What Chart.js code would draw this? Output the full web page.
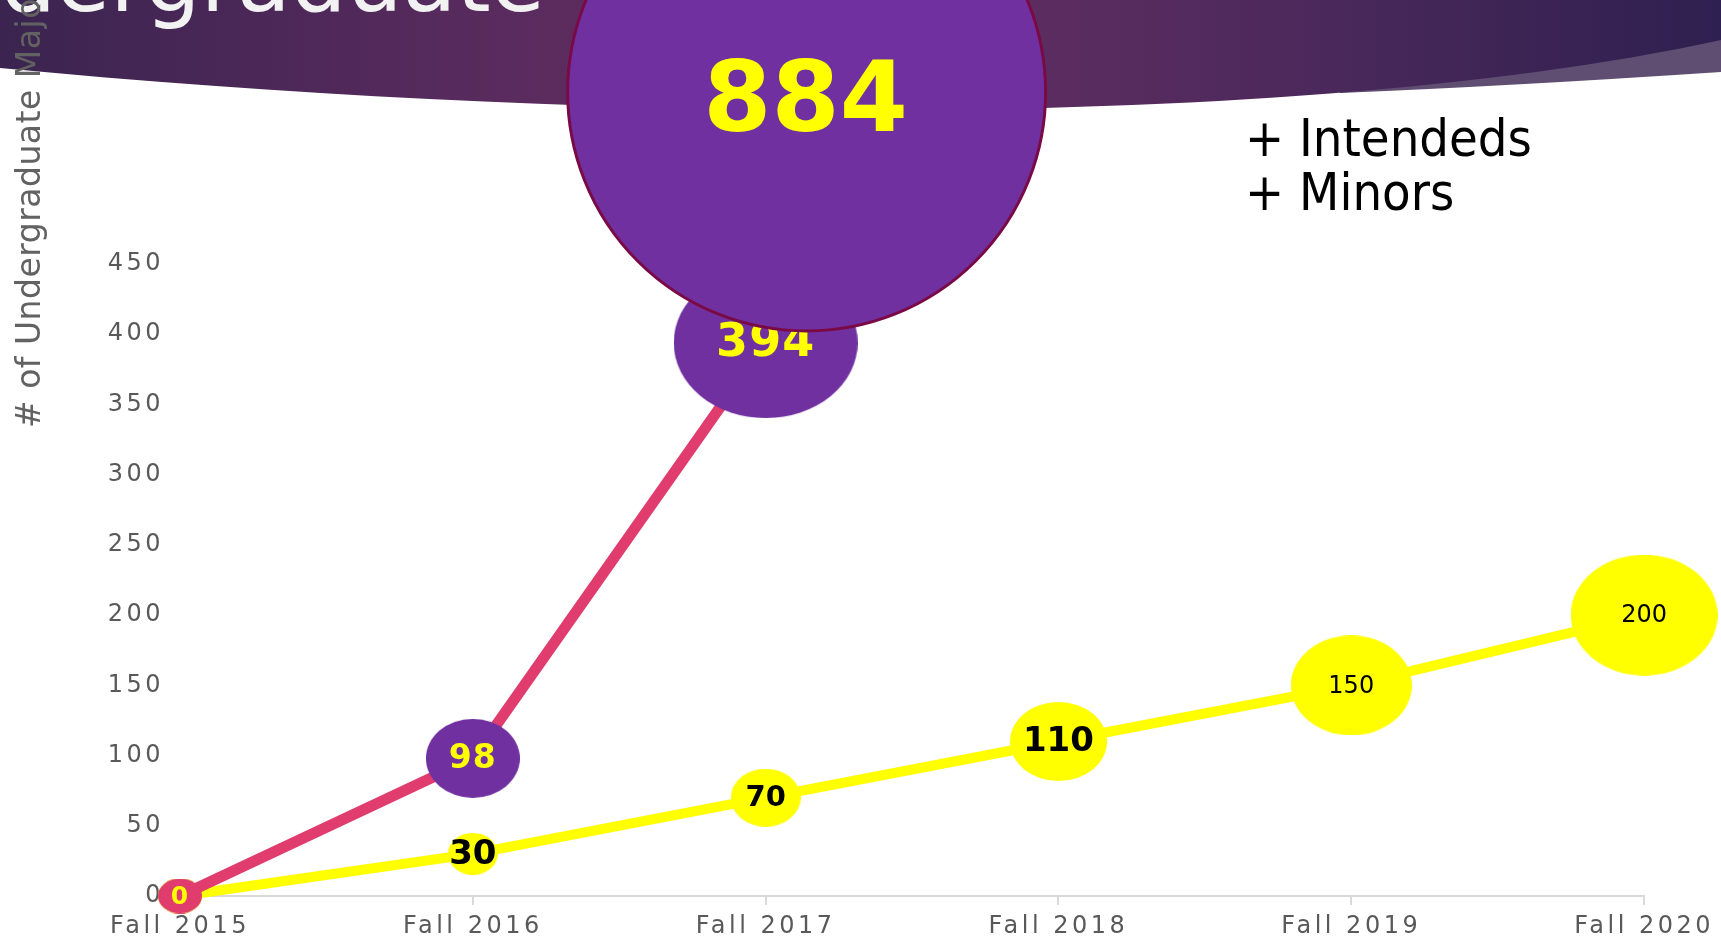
<!DOCTYPE html>
<html>
<head>
<meta charset="utf-8">
<script src="https://cdn.jsdelivr.net/npm/chart.js@4.4.1/dist/chart.umd.min.js"></script>
<style>
  html, body { margin: 0; padding: 0; background: #fff; }
  #myChart { display: block; }
</style>
</head>
<body>
<canvas id="myChart" width="1721" height="940"></canvas>
<script>
// data
const categories = ['Fall 2015', 'Fall 2016', 'Fall 2017', 'Fall 2018', 'Fall 2019', 'Fall 2020'];
const majorsValues = [0, 98, 394, null, null, null];
const otherValues = [0, 30, 70, 110, 150, 200];
const yTicks = [0, 50, 100, 150, 200, 250, 300, 350, 400, 450];
const totalValue = 884;
const noteLines = ['+ Intendeds', '+ Minors'];
const yTitle = '# of Undergraduate Majors';
const slideTitle = 'Undergraduate';

// styles
const PINK = '#e03c6e';
const PURPLE = '#7030a0';
const YELLOW = '#ffff00';
const FONT = '"DejaVu Sans", Verdana, sans-serif';
const TICK_SPACING = '3.5px';

// bubble sizes [w, h, fill]
const majorsBubbles = [[44, 35, PINK], [94, 79, PURPLE], [184, 151, PURPLE]];
const otherBubbles = [[44, 35, YELLOW], [50, 42, YELLOW], [70, 58, YELLOW], [97, 79, YELLOW], [121, 100, YELLOW], [147, 121, YELLOW]];
const majorsLabelFonts = ['bold 25px', 'bold 33px', 'bold 46px'];
const otherLabelFonts = [null, 'bold 34px', 'bold 29px', 'bold 34px', '24px', '24px'];

function ellipse(w, h, fill) {
  const c = document.createElement('canvas');
  c.width = w;
  c.height = h;
  const g = c.getContext('2d');
  g.fillStyle = fill;
  g.beginPath();
  g.ellipse(w / 2, h / 2, w / 2, h / 2, 0, 0, Math.PI * 2);
  g.fill();
  return c;
}

const majorsStyles = majorsBubbles.map(b => ellipse(b[0], b[1], b[2]));
const otherStyles = otherBubbles.map(b => ellipse(b[0], b[1], b[2]));

const slidePlugin = {
  id: 'slide',
  beforeUpdate(chart) {
    chart.ctx.letterSpacing = TICK_SPACING;
  },
  beforeDraw(chart) {
    const ctx = chart.ctx;
    const W = chart.width;
    ctx.save();
    ctx.letterSpacing = '0px';

    // lighter band on the right
    ctx.fillStyle = '#5f4d72';
    ctx.beginPath();
    ctx.moveTo(1340, 0);
    ctx.lineTo(1340, 93);
    ctx.quadraticCurveTo(1510, 86, W, 72);
    ctx.lineTo(W, 0);
    ctx.closePath();
    ctx.fill();

    // header band
    const grad = ctx.createLinearGradient(0, 0, W, 0);
    grad.addColorStop(0, '#3b2450');
    grad.addColorStop(0.3, '#5a2b5e');
    grad.addColorStop(0.5, '#662f62');
    grad.addColorStop(0.75, '#4d295c');
    grad.addColorStop(1, '#2e2050');
    ctx.fillStyle = grad;
    ctx.beginPath();
    ctx.moveTo(0, 0);
    ctx.lineTo(0, 68);
    ctx.bezierCurveTo(600, 125, 1300, 132, W, 40);
    ctx.lineTo(W, 0);
    ctx.closePath();
    ctx.fill();

    // slide title (cut off at the top)
    ctx.fillStyle = '#f2f2f2';
    ctx.font = '88px ' + FONT;
    ctx.textAlign = 'right';
    ctx.textBaseline = 'alphabetic';
    ctx.fillText(slideTitle, 545, 11);

    // y axis title
    ctx.translate(40, 428);
    ctx.rotate(-Math.PI / 2);
    ctx.fillStyle = '#626262';
    ctx.font = '33px ' + FONT;
    ctx.letterSpacing = '0.5px';
    ctx.textAlign = 'left';
    ctx.fillText(yTitle, 0, 0);
    ctx.restore();

    ctx.letterSpacing = TICK_SPACING;
  },
  afterDatasetsDraw(chart) {
    const ctx = chart.ctx;
    ctx.save();
    ctx.textAlign = 'center';
    ctx.textBaseline = 'middle';

    const drawLabels = (idx, values, fonts, color, spacing) => {
      const meta = chart.getDatasetMeta(idx);
      meta.data.forEach((pt, i) => {
        if (values[i] === null || !fonts[i]) return;
        ctx.font = fonts[i] + ' ' + FONT;
        ctx.fillStyle = color;
        ctx.letterSpacing = spacing;
        ctx.fillText(String(values[i]), pt.x, pt.y + 1);
      });
    };
    drawLabels(1, otherValues, otherLabelFonts, '#000000', '0px');
    drawLabels(0, majorsValues, majorsLabelFonts, YELLOW, '1px');

    // total callout
    const xs = chart.scales.x;
    const step = xs.getPixelForValue(3) - xs.getPixelForValue(2);
    const cx = xs.getPixelForValue(2) + step * 0.14;
    const cy = chart.chartArea.top - 172;
    ctx.beginPath();
    ctx.arc(cx, cy, 239, 0, Math.PI * 2);
    ctx.fillStyle = PURPLE;
    ctx.fill();
    ctx.lineWidth = 3;
    ctx.strokeStyle = '#7a0a46';
    ctx.stroke();
    ctx.fillStyle = YELLOW;
    ctx.letterSpacing = '0px';
    ctx.font = 'bold 98px ' + FONT;
    ctx.fillText(String(totalValue), cx - 1, cy + 14);

    // note text
    ctx.fillStyle = '#000000';
    ctx.textAlign = 'left';
    ctx.textBaseline = 'alphabetic';
    ctx.font = '52px "DejaVu Sans Condensed", ' + FONT;
    ctx.fillText(noteLines[0], 1245, 156);
    ctx.fillText(noteLines[1], 1245, 210);
    ctx.restore();
    ctx.letterSpacing = TICK_SPACING;
  }
};

const ctx = document.getElementById('myChart');

new Chart(ctx, {
  type: 'line',
  data: {
    labels: categories,
    datasets: [
      {
        label: 'Majors',
        data: majorsValues,
        borderColor: PINK,
        borderWidth: 11,
        tension: 0,
        fill: false,
        clip: false,
        pointStyle: c => majorsStyles[c.dataIndex],
        pointRadius: 10
      },
      {
        label: 'Other',
        data: otherValues,
        borderColor: YELLOW,
        borderWidth: 10,
        tension: 0,
        fill: false,
        clip: false,
        pointStyle: c => otherStyles[c.dataIndex],
        pointRadius: 10
      }
    ]
  },
  options: {
    responsive: false,
    animation: false,
    events: [],
    layout: { padding: { top: 264, right: 76, left: 0, bottom: 0 } },
    plugins: {
      legend: { display: false },
      tooltip: { enabled: false }
    },
    scales: {
      x: {
        grid: { display: true, drawOnChartArea: false, drawTicks: true, tickLength: 9, color: '#d9d9d9', lineWidth: 2 },
        border: { display: true, color: '#d9d9d9', width: 2 },
        ticks: { color: '#595959', font: { family: 'DejaVu Sans', size: 24 }, padding: 7, maxRotation: 0, autoSkip: false },
        afterFit: s => { s.height = 44; }
      },
      y: {
        min: yTicks[0],
        max: yTicks[yTicks.length - 1],
        grid: { display: false },
        border: { display: false },
        ticks: { stepSize: yTicks[1] - yTicks[0], color: '#595959', font: { family: 'DejaVu Sans', size: 24 }, padding: 8 },
        afterFit: s => { s.width = 180; }
      }
    }
  },
  plugins: [slidePlugin]
});
</script>
</body>
</html>
